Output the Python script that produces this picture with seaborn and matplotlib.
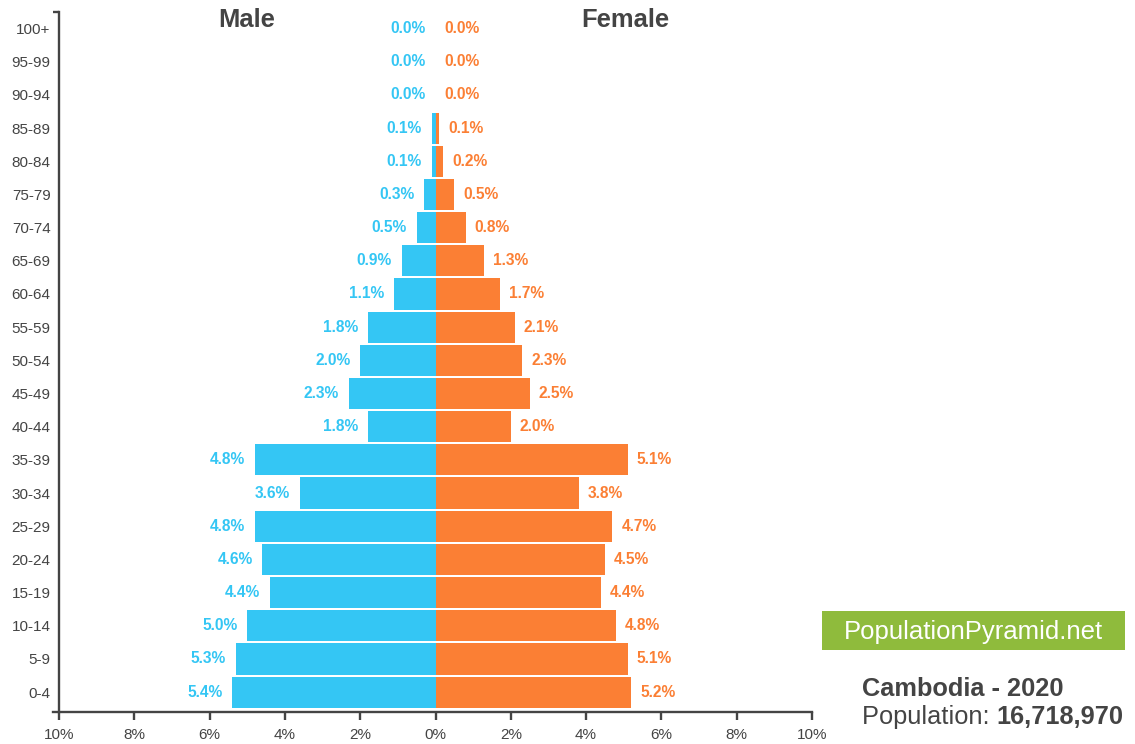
import matplotlib
matplotlib.use("Agg")
import matplotlib.pyplot as plt
import seaborn as sns
import pandas as pd

# Age groups, youngest first
age_groups = ["0-4", "5-9", "10-14", "15-19", "20-24", "25-29", "30-34", "35-39",
              "40-44", "45-49", "50-54", "55-59", "60-64", "65-69", "70-74",
              "75-79", "80-84", "85-89", "90-94", "95-99", "100+"]
# Share of total population (%)
male_pct = [5.4, 5.3, 5.0, 4.4, 4.6, 4.8, 3.6, 4.8, 1.8, 2.3, 2.0, 1.8, 1.1,
            0.9, 0.5, 0.3, 0.1, 0.1, 0.0, 0.0, 0.0]
female_pct = [5.2, 5.1, 4.8, 4.4, 4.5, 4.7, 3.8, 5.1, 2.0, 2.5, 2.3, 2.1, 1.7,
              1.3, 0.8, 0.5, 0.2, 0.1, 0.0, 0.0, 0.0]
x_ticks = [-10, -8, -6, -4, -2, 0, 2, 4, 6, 8, 10]
x_tick_labels = ["10%", "8%", "6%", "4%", "2%", "0%", "2%", "4%", "6%", "8%", "10%"]

country = "Cambodia"
year = "2020"
population = "16,718,970"
site = "PopulationPyramid.net"

MALE = "#34C6F4"
FEMALE = "#FB7F34"
DARK = "#444444"
GREEN = "#8FBB3C"
LW = 1.7

sns.set_theme(style="white")
plt.rcParams["font.family"] = ["Liberation Sans", "DejaVu Sans"]

df = pd.DataFrame({"age": age_groups, "male": male_pct, "female": female_pct})
df["male_neg"] = -df["male"]
order = age_groups[::-1]  # oldest at the top

fig = plt.figure(figsize=(11.35, 7.44), dpi=100)
ax = fig.add_axes([59 / 1135, 32 / 744, (812 - 59) / 1135, 700 / 744])

sns.barplot(data=df, x="male_neg", y="age", order=order, color=MALE,
            saturation=1, width=0.94, orient="h", linewidth=0, ax=ax)
sns.barplot(data=df, x="female", y="age", order=order, color=FEMALE,
            saturation=1, width=0.94, orient="h", linewidth=0, ax=ax)

ax.set_xlim(-10, 10)
ax.set_ylim(20.6, -0.5)
ax.set_xlabel("")
ax.set_ylabel("")

# Value labels at the end of each bar
for i, age in enumerate(order):
    row = df[df["age"] == age].iloc[0]
    ax.annotate(f"{row['male']:.1f}%", xy=(-row["male"], i), xytext=(-7, 0),
                textcoords="offset points", ha="right", va="center",
                color=MALE, fontsize=11.2, fontweight="bold")
    ax.annotate(f"{row['female']:.1f}%", xy=(row["female"], i), xytext=(6.5, 0),
                textcoords="offset points", ha="left", va="center",
                color=FEMALE, fontsize=11.2, fontweight="bold")

# Axes styling
for side in ["top", "right"]:
    ax.spines[side].set_visible(False)
for side in ["left", "bottom"]:
    ax.spines[side].set_color(DARK)
    ax.spines[side].set_linewidth(LW)
ax.spines["bottom"].set_bounds(-10.16, 10)
ax.plot([-10.16, -10], [-0.5, -0.5], color=DARK, lw=LW, clip_on=False,
        solid_capstyle="butt")

ax.set_xticks(x_ticks)
ax.set_xticklabels(x_tick_labels)
ax.tick_params(axis="x", bottom=True, length=6, width=LW, color=DARK,
               labelsize=11, labelcolor=DARK, pad=5.5)
ax.tick_params(axis="y", left=False, length=0, labelsize=11,
               labelcolor=DARK, pad=6)

# Sex headings
fig.text(247 / 1135, 1 - 20 / 744, "Male", ha="center", va="center",
         fontsize=18.4, fontweight="bold", color=DARK)
fig.text(625 / 1135, 1 - 20 / 744, "Female", ha="center", va="center",
         fontsize=18.4, fontweight="bold", color=DARK)

# Site badge
badge = fig.add_axes([822 / 1135, 1 - 650 / 744, (1125 - 822) / 1135, 39 / 744])
badge.set_facecolor(GREEN)
badge.set_xticks([])
badge.set_yticks([])
for s in badge.spines.values():
    s.set_visible(False)
badge.text(0.5, 0.47, site, ha="center", va="center", color="white",
           fontsize=18.5, transform=badge.transAxes)

# Country / population caption
fig.text(862 / 1135, 1 - 689 / 744, f"{country} - {year}", ha="left",
         va="center", fontsize=18.3, fontweight="bold", color=DARK)
t1 = fig.text(862 / 1135, 1 - 717 / 744, "Population: ", ha="left",
              va="center", fontsize=18.3, color=DARK)
fig.canvas.draw()
bb = t1.get_window_extent()
fig.text(bb.x1 / fig.bbox.width, 1 - 717 / 744, population, ha="left",
         va="center", fontsize=18.3, fontweight="bold", color=DARK)

fig.savefig("out.png", dpi=100)
